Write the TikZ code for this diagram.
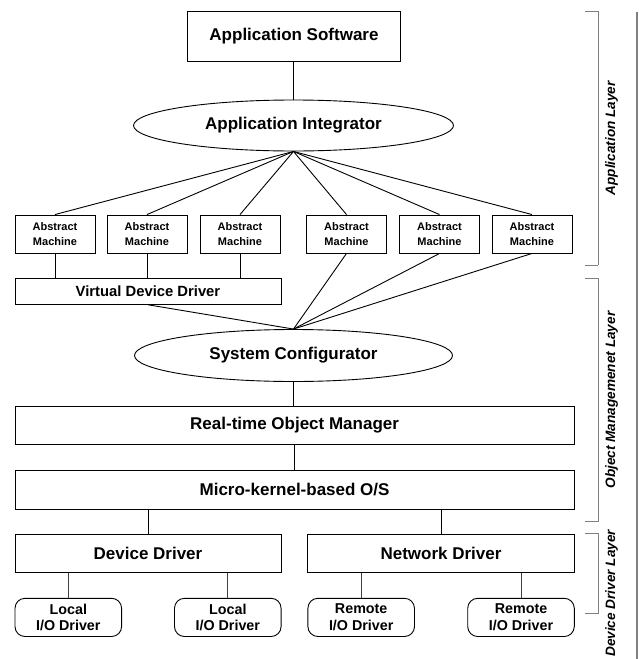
\documentclass[tikz,border=0pt]{standalone}
\usepackage{fontspec}
\setmainfont{Liberation Sans}
\usetikzlibrary{shapes.geometric}
\begin{document}
\begin{tikzpicture}[x=1pt,y=-1pt,
  every node/.style={inner sep=0pt, font=\bfseries},
  box/.style={draw, line width=0.9pt, rectangle, align=center},
  oval/.style={draw, line width=0.9pt, ellipse, align=center},
  rbox/.style={draw, line width=0.9pt, rectangle, rounded corners=10pt, align=center,
    minimum width=106.6pt, minimum height=38.2pt, font=\bfseries\fontsize{14.3}{16.7}\selectfont},
  ambox/.style={box, minimum width=80pt, minimum height=38pt, font=\bfseries\fontsize{11}{15}\selectfont},
  bigfont/.style={font=\bfseries\fontsize{17}{20}\selectfont},
  conn/.style={line width=0.9pt},
  lconn/.style={line width=0.9pt, black!75},
  bracket/.style={gray, line width=0.8pt, dash pattern=on 0.6pt off 0.4pt},
  layerlbl/.style={rotate=90, font=\bfseries\itshape\fontsize{13.6}{16}\selectfont}
]
\useasboundingbox (0,0) rectangle (639,659);
\fill[white] (0,0) rectangle (639,659);

% top
\node[box, bigfont, minimum width=213pt, minimum height=50.7pt] (appsw) at (294,36.3) {Application Software};
\node[oval, bigfont, minimum width=320pt, minimum height=51pt] (ai) at (293.5,125.5) {Application Integrator};

% abstract machines
\node[ambox] (am1) at (55,234) {Abstract\\Machine};
\node[ambox] (am2) at (147,234) {Abstract\\Machine};
\node[ambox] (am3) at (240,234) {Abstract\\Machine};
\node[ambox] (am4) at (346.5,234) {Abstract\\Machine};
\node[ambox] (am5) at (439.5,234) {Abstract\\Machine};
\node[ambox] (am6) at (532,234) {Abstract\\Machine};

\node[box, font=\bfseries\fontsize{14.8}{17}\selectfont, minimum width=266pt, minimum height=26pt] (vdd) at (148,291.3) {Virtual Device Driver};

\node[oval, bigfont, minimum width=318pt, minimum height=52pt] (sc) at (293.5,355.5) {System Configurator};

\node[box, bigfont, minimum width=559.3pt, minimum height=37.3pt] (rtom) at (294.6,425.3) {Real-time Object Manager};
\node[box, bigfont, minimum width=559.3pt, minimum height=38.3pt] (mk) at (294.6,489.8) {Micro-kernel-based O/S};

\node[box, bigfont, minimum width=266pt, minimum height=38.2pt] (dd) at (148,553.4) {Device Driver};
\node[box, bigfont, minimum width=266.5pt, minimum height=38.2pt] (nd) at (441,553.4) {Network Driver};

\node[rbox] (lio1) at (68.3,617.4) {Local\\I/O Driver};
\node[rbox] (lio2) at (227.8,617.4) {Local\\I/O Driver};
\node[rbox] (rio1) at (361.2,617.4) {Remote\\I/O Driver};
\node[rbox] (rio2) at (521,617.4) {Remote\\I/O Driver};

% connectors
\draw[conn] (appsw.south -| ai.north) -- (ai.north);
\foreach \m in {am1,am2,am3,am4,am5,am6} \draw[conn] (ai.south) -- (\m.north);
\foreach \m in {am1,am2,am3} \draw[conn] (\m.south) -- (\m.south |- vdd.north);
\draw[conn] (vdd.south) -- (sc.north);
\foreach \m in {am4,am5,am6} \draw[conn] (\m.south) -- (sc.north);
\draw[conn] (sc.south) -- (sc.south |- rtom.north);
\draw[conn] (rtom.south) -- (mk.north);
\draw[conn] (dd.north |- mk.south) -- (dd.north);
\draw[conn] (nd.north |- mk.south) -- (nd.north);
\foreach \r in {lio1,lio2} \draw[lconn] (\r.north |- dd.south) -- (\r.north);
\foreach \r in {rio1,rio2} \draw[lconn] (\r.north |- nd.south) -- (\r.north);

% layer brackets
\coordinate (b1t) at (585,11.7);
\coordinate (b1b) at (585,265);
\coordinate (b2t) at (585,278.3);
\coordinate (b2b) at (585,521.7);
\coordinate (b3t) at (585,533);
\coordinate (b3b) at (585,613);
\draw[bracket] (b1t) -- ++(13.3,0) |- (b1b);
\draw[bracket] (b2t) -- ++(13.3,0) |- (b2b);
\draw[bracket] (b3t) -- ++(13.3,0) |- (b3b);
\coordinate (vt) at (637,11.7);
\coordinate (vb) at (637,659);
\draw[gray, line width=1.2pt] (vt) -- (vb);

\node[layerlbl] (l1) at (611.5,138.3) {Application Layer};
\node[layerlbl] (l2) at (611.5,400) {Object Managemenet Layer};
\node[layerlbl, anchor=east] (l3) at (611.5,529.5) {Device Driver Layer};
\end{tikzpicture}
\end{document}
